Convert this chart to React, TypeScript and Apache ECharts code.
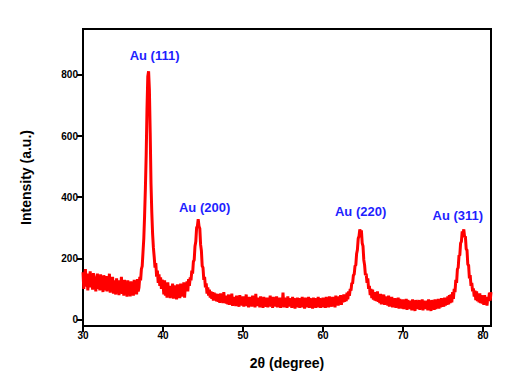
import React, { useEffect, useRef } from "react";
import * as echarts from "echarts";

// 2θ scan grid (degrees)
const scanStart = 30;
const scanStep = 0.1;

const intensity30to37 = [
  155, 100, 148, 165, 108, 150, 95, 140, 118, 158,
  105, 145, 98, 152, 112, 140, 92, 138, 150, 100,
  135, 95, 148, 104, 140, 90, 145, 110, 96, 142,
  92, 138, 100, 150, 88, 132, 98, 140, 85, 128,
  100, 82, 135, 90, 128, 80, 125, 95, 140, 84,
  118, 78, 130, 82, 122, 75, 128, 88, 115, 76,
  125, 80, 118, 78, 130, 86, 120, 82, 132, 92,
];
const intensity37to40 = [
  105, 140, 128, 165, 175, 220, 265, 340, 430, 540,
  690, 795, 812, 750, 610, 445, 350, 280, 235, 205,
  170, 185, 140, 160, 120, 148, 110, 138, 100, 130,
];
const intensity40to46 = [
  118, 82, 128, 78, 115, 72, 122, 80, 110, 70,
  105, 75, 118, 68, 112, 78, 100, 66, 115, 72,
  108, 70, 118, 75, 110, 80, 122, 72, 115, 95,
  125, 92, 132, 110, 138, 128, 160, 150, 190, 195,
  240, 255, 300, 305, 328, 305, 298, 245, 225, 175,
  170, 130, 140, 105, 118, 85, 105, 78, 98, 72,
];
const intensity46to63 = [
  92, 68, 90, 62, 88, 65, 85, 60, 84, 58,
  82, 55, 86, 58, 80, 54, 90, 56, 78, 52,
  78, 50, 82, 48, 72, 55, 85, 45, 74, 50,
  70, 44, 78, 52, 68, 42, 80, 48, 72, 46,
  76, 42, 70, 50, 82, 44, 68, 40, 74, 48,
  70, 42, 78, 46, 66, 40, 84, 44, 72, 48,
  68, 40, 76, 45, 70, 38, 74, 48, 66, 42,
  72, 40, 70, 46, 78, 42, 68, 38, 74, 44,
  70, 42, 76, 40, 66, 46, 72, 38, 70, 44,
  88, 40, 72, 44, 68, 38, 76, 42, 70, 46,
  66, 38, 74, 42, 70, 36, 68, 44, 72, 40,
  70, 38, 66, 44, 74, 40, 68, 36, 72, 42,
  68, 40, 74, 38, 70, 44, 66, 36, 72, 42,
  70, 38, 68, 44, 74, 40, 70, 38, 66, 44,
  72, 40, 68, 38, 74, 42, 70, 40, 76, 44,
  68, 42, 74, 46, 70, 40, 78, 48, 72, 46,
  76, 50, 80, 48, 74, 56, 82, 58, 78, 60,
];
const intensity63to66 = [
  88, 66, 92, 78, 100, 95, 120, 118, 145, 148,
  175, 178, 215, 228, 265, 272, 295, 285, 292, 250,
  240, 195, 178, 145, 150, 120, 135, 100, 110, 80,
];
const intensity66to76 = [
  100, 70, 98, 65, 88, 62, 90, 60, 92, 58,
  80, 54, 84, 50, 78, 56, 82, 48, 76, 50,
  72, 46, 78, 42, 70, 48, 74, 40, 68, 46,
  70, 38, 66, 42, 72, 36, 68, 40, 64, 36,
  66, 34, 62, 40, 68, 32, 64, 38, 60, 34,
  62, 30, 66, 36, 60, 28, 64, 34, 58, 36,
  64, 32, 60, 36, 66, 30, 62, 38, 58, 34,
  62, 30, 66, 34, 60, 28, 64, 36, 62, 32,
  66, 34, 62, 38, 68, 36, 64, 40, 70, 42,
  68, 42, 72, 46, 70, 48, 76, 50, 80, 54,
];
const intensity76to81 = [
  82, 56, 90, 68, 100, 90, 130, 120, 165, 170,
  210, 210, 250, 255, 288, 280, 295, 270, 272, 230,
  228, 180, 178, 135, 145, 110, 120, 92, 102, 75,
  95, 64, 92, 60, 84, 56, 86, 54, 80, 52,
  76, 48, 80, 50, 74, 46, 70, 60, 88, 62,
  90,
];

// Reflection labels and where they sit (2θ, intensity)
const peakLabels = ["Au (111)", "Au (200)", "Au (220)", "Au (311)"];
const peakLabelX = [38.95, 45.2, 64.7, 76.85];
const peakLabelY = [864, 368, 352, 339];

const xTicks = [30, 40, 50, 60, 70, 80];
const yTicks = [0, 200, 400, 600, 800];

const FONT = 'Arial, "Liberation Sans", sans-serif';

export default function App() {
  const ref = useRef<HTMLDivElement>(null);

  useEffect(() => {
    if (!ref.current) return;
    const chart = echarts.init(ref.current, null, { renderer: "svg" });

    const intensity = [
      ...intensity30to37,
      ...intensity37to40,
      ...intensity40to46,
      ...intensity46to63,
      ...intensity63to66,
      ...intensity66to76,
      ...intensity76to81,
    ];
    const pattern = intensity.map((v, i) => [
      +(scanStart + i * scanStep).toFixed(2),
      v,
    ]);
    const labelData = peakLabels.map((name, i) => ({
      name,
      value: [peakLabelX[i], peakLabelY[i]],
    }));

    chart.setOption({
      animation: false,
      backgroundColor: "#ffffff",
      grid: {
        left: 83,
        top: 29,
        width: 408,
        height: 297,
        show: true,
        borderColor: "#000",
        borderWidth: 2,
        backgroundColor: "transparent",
      },
      xAxis: {
        type: "value",
        min: 30,
        max: 81,
        name: "2θ (degree)",
        nameLocation: "middle",
        nameGap: 30,
        nameTextStyle: {
          fontFamily: FONT,
          fontWeight: "bold",
          fontSize: 14,
          color: "#000",
        },
        axisLine: { show: true, onZero: false, lineStyle: { color: "#000", width: 2 } },
        axisTick: {
          show: true,
          length: 6,
          customValues: xTicks,
          lineStyle: { color: "#000", width: 2 },
        },
        axisLabel: {
          customValues: xTicks,
          fontFamily: FONT,
          fontWeight: "bold",
          fontSize: 10,
          color: "#000",
          margin: 4,
        },
        splitLine: { show: false },
      },
      yAxis: {
        type: "value",
        min: -21,
        max: 950,
        name: "Intensity (a.u.)",
        nameLocation: "middle",
        nameGap: 50,
        nameTextStyle: {
          fontFamily: FONT,
          fontWeight: "bold",
          fontSize: 14,
          color: "#000",
        },
        axisLine: { show: true, onZero: false, lineStyle: { color: "#000", width: 2 } },
        axisTick: {
          show: true,
          length: 6,
          customValues: yTicks,
          lineStyle: { color: "#000", width: 2 },
        },
        axisLabel: {
          customValues: yTicks,
          fontFamily: FONT,
          fontWeight: "bold",
          fontSize: 10,
          color: "#000",
          margin: 5,
        },
        splitLine: { show: false },
      },
      series: [
        {
          type: "line",
          data: pattern,
          showSymbol: false,
          symbol: "none",
          lineStyle: { color: "#ff0000", width: 3 },
          clip: true,
        },
        {
          type: "scatter",
          data: labelData,
          symbolSize: 0,
          itemStyle: { color: "#1f1fff" },
          label: {
            show: true,
            position: "inside",
            formatter: "{b}",
            fontFamily: FONT,
            fontWeight: "bold",
            fontSize: 13,
            color: "#1f1fff",
            textBorderWidth: 0,
            opacity: 1,
          },
        },
      ],
    });

    return () => chart.dispose();
  }, []);

  return (
    <div
      ref={ref}
      style={{ position: "fixed", left: 0, top: 0, width: 525, height: 376, background: "#fff" }}
    />
  );
}
